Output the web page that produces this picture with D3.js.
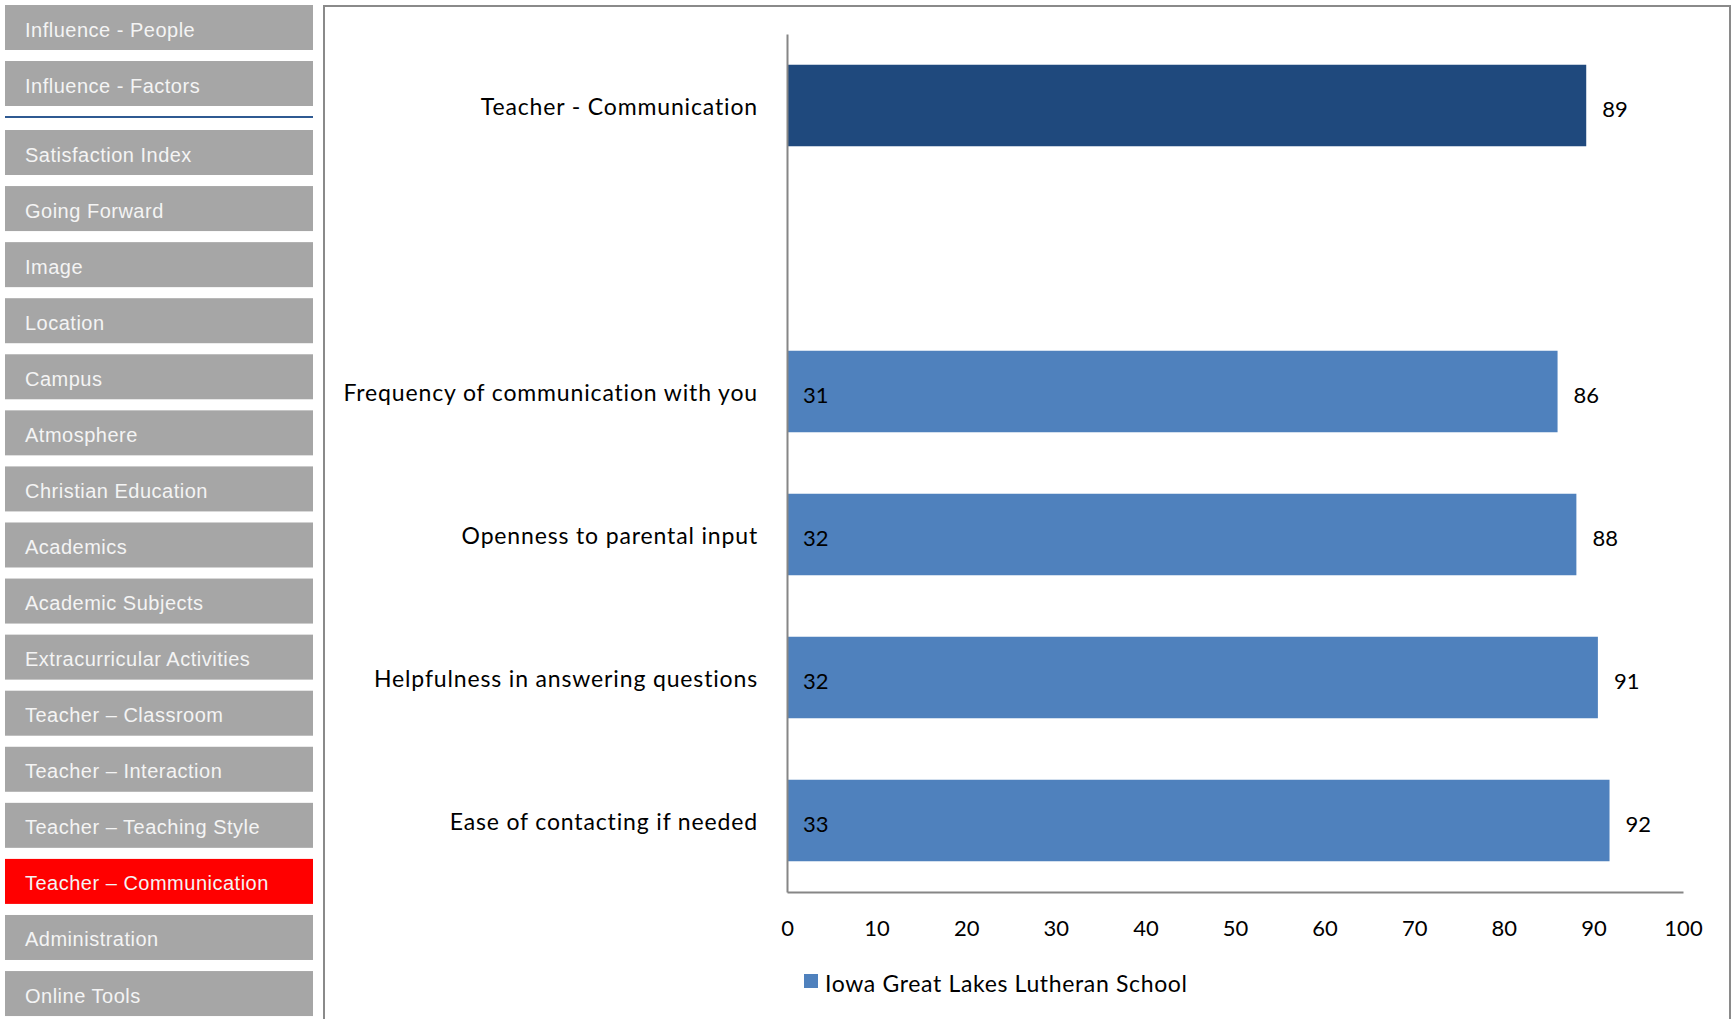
<!DOCTYPE html>
<html>
<head>
<meta charset="utf-8">
<script src="https://cdn.jsdelivr.net/npm/d3@7"></script>
<style>
  html, body { margin: 0; padding: 0; background: #ffffff; }
  svg { display: block; }
</style>
</head>
<body>
<svg id="chart" width="1732" height="1019"></svg>
<script>
// ---- data ----
const navTop = ["Influence - People", "Influence - Factors"];
const navItems = ["Satisfaction Index", "Going Forward", "Image", "Location", "Campus",
  "Atmosphere", "Christian Education", "Academics", "Academic Subjects",
  "Extracurricular Activities", "Teacher \u2013 Classroom", "Teacher \u2013 Interaction",
  "Teacher \u2013 Teaching Style", "Teacher \u2013 Communication", "Administration", "Online Tools"];
const activeItem = "Teacher \u2013 Communication";

const categories = ["Teacher - Communication", "", "Frequency of communication with you",
  "Openness to parental input", "Helpfulness in answering questions", "Ease of contacting if needed"];
const values = [89.2, null, 86.0, 88.1, 90.5, 91.8];
const counts = [null, null, 31, 32, 32, 33];
const summaryFlags = [true, false, false, false, false, false];
const xTicks = [0, 10, 20, 30, 40, 50, 60, 70, 80, 90, 100];
const legendLabel = "Iowa Great Lakes Lutheran School";

// ---- drawing ----
const svg = d3.select("#chart");
const navFont = "'Liberation Sans', Arial, sans-serif";
const chartFont = "Lato, 'Open Sans', sans-serif";
const fmt = v => Math.round(v).toString();

// sidebar
const navX = 5, navW = 308, navH = 45;
const topG = svg.append("g");
navTop.forEach((t, i) => {
  const y = 5 + i * 56;
  topG.append("rect").attr("x", navX).attr("y", y).attr("width", navW).attr("height", navH).attr("fill", "#a6a6a6");
  topG.append("text").attr("x", 25).attr("y", y + 31.5).text(t)
    .attr("font-family", navFont).attr("font-size", 20).attr("letter-spacing", 0.5).attr("fill", "#f4f4f4");
});
svg.append("line").attr("x1", navX).attr("x2", navX + navW).attr("y1", 117).attr("y2", 117)
  .attr("stroke", "#2f5a92").attr("stroke-width", 2);

const navY = d3.scaleLinear().domain([0, 1]).range([130, 130 + 56.07]);
const navG = svg.append("g").selectAll("g").data(navItems).join("g")
  .attr("transform", (d, i) => `translate(0,${navY(i)})`);
navG.append("rect").attr("x", navX).attr("y", 0).attr("width", navW).attr("height", navH)
  .attr("fill", d => d === activeItem ? "#ff0000" : "#a6a6a6");
navG.append("text").attr("x", 25).attr("y", 31.5).text(d => d)
  .attr("font-family", navFont).attr("font-size", 20).attr("letter-spacing", 0.5).attr("fill", "#f4f4f4");

// chart panel border
svg.append("rect").attr("x", 324).attr("y", 6).attr("width", 1406).attr("height", 1030)
  .attr("fill", "none").attr("stroke", "#8a8a8a").attr("stroke-width", 2);

// scales
const x0 = 787, x1 = 1683, yTop = 34, yBot = 892;
const x = d3.scaleLinear().domain([0, 100]).range([x0, x1]);
const y = d3.scaleBand().domain(categories.map((c, i) => i)).range([yTop, yBot])
  .paddingInner(0.43).paddingOuter(0.215);

// bars
const rows = categories.map((c, i) => ({ c, i, v: values[i], n: counts[i], s: summaryFlags[i] }));
const barRows = rows.filter(r => r.v !== null);
svg.append("g").selectAll("rect").data(barRows).join("rect")
  .attr("x", x(0)).attr("y", r => y(r.i))
  .attr("width", r => x(r.v) - x(0)).attr("height", y.bandwidth())
  .attr("fill", r => r.s ? "#1f497d" : "#4f81bd");

// value labels
svg.append("g").selectAll("text").data(barRows).join("text")
  .attr("x", r => x(r.v) + 16).attr("y", r => y(r.i) + y.bandwidth() / 2 + 11)
  .text(r => fmt(r.v)).attr("font-family", chartFont).attr("font-size", 22).attr("fill", "#000");

// count labels inside bars
svg.append("g").selectAll("text").data(rows.filter(r => r.n !== null)).join("text")
  .attr("x", x(0) + 16).attr("y", r => y(r.i) + y.bandwidth() / 2 + 11)
  .text(r => r.n).attr("font-family", chartFont).attr("font-size", 22).attr("fill", "#000");

// category labels
svg.append("g").selectAll("text").data(rows.filter(r => r.c !== "")).join("text")
  .attr("x", 758).attr("y", r => y(r.i) + y.bandwidth() / 2 + 9)
  .attr("text-anchor", "end").text(r => r.c)
  .attr("font-family", chartFont).attr("font-size", 23).attr("letter-spacing", 0.85).attr("fill", "#000");

// axes
const yAxisG = svg.append("g").attr("transform", `translate(${x0},0)`)
  .call(d3.axisLeft(y).tickSize(0).tickFormat(""));
yAxisG.select(".domain").attr("stroke", "#868686").attr("stroke-width", 2);

const xAxisG = svg.append("g").attr("transform", `translate(0,${yBot})`)
  .call(d3.axisBottom(x).tickValues(xTicks).tickSize(0).tickPadding(28).tickFormat(d3.format("d")));
xAxisG.select(".domain").attr("stroke", "#868686").attr("stroke-width", 2);
xAxisG.selectAll("text").attr("font-family", chartFont).attr("font-size", 22).attr("fill", "#000");

// legend
svg.append("rect").attr("x", 804).attr("y", 974).attr("width", 14).attr("height", 14).attr("fill", "#4f81bd");
svg.append("text").attr("x", 825).attr("y", 992).text(legendLabel)
  .attr("font-family", chartFont).attr("font-size", 23).attr("letter-spacing", 0.65).attr("fill", "#000");
</script>
</body>
</html>
